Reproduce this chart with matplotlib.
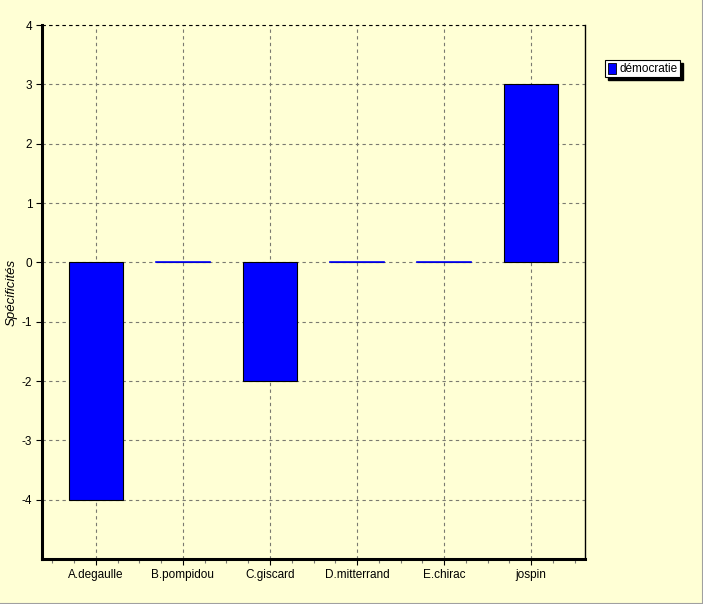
import matplotlib
matplotlib.use("Agg")
import matplotlib.pyplot as plt
from matplotlib.patches import Rectangle
from matplotlib.lines import Line2D
from matplotlib.ticker import MultipleLocator

# Data
categories = ["A.degaulle", "B.pompidou", "C.giscard", "D.mitterrand", "E.chirac", "jospin"]
values = [-4, 0, -2, 0, 0, 3]
series_name = "démocratie"
y_ticks = [-4, -3, -2, -1, 0, 1, 2, 3, 4]

W, H = 703, 604
BG = "#FFFFD5"
BLUE = "#0000FF"
GRID = "#7A7A70"

plt.rcParams["font.family"] = ["Liberation Sans", "DejaVu Sans"]

fig = plt.figure(figsize=(W / 100, H / 100), dpi=100, facecolor=BG)
ax = fig.add_axes([42 / W, 1 - 559 / H, (585 - 42) / W, (559 - 25) / H])
ax.set_facecolor(BG)

x = list(range(len(categories)))
ax.bar(x, values, width=0.62, color=BLUE, edgecolor="black", linewidth=0.8, zorder=3)
# zero values still show as a thin blue line
for xi, v in zip(x, values):
    if v == 0:
        ax.plot([xi - 0.31, xi + 0.31], [0, 0], color=BLUE, linewidth=1.2, zorder=4)

ax.set_xlim(-0.62, len(categories) - 1 + 0.62)
ax.set_ylim(-5, 4)
ax.set_xticks(x)
ax.set_xticklabels(categories, fontsize=8.5)
ax.xaxis.set_minor_locator(MultipleLocator(0.25))
ax.set_yticks(y_ticks)
ax.set_yticklabels([str(t) for t in y_ticks], fontsize=8.5)

ax.grid(True, which="major", color=GRID, linestyle=(0, (3, 3)), linewidth=0.8, zorder=1)
ax.tick_params(axis="both", which="major", length=4, width=0.8, pad=3, colors="black")
ax.tick_params(axis="x", which="minor", length=3, width=0.8, color=GRID)

ax.spines["left"].set_linewidth(2.2)
ax.spines["bottom"].set_linewidth(2.2)
ax.spines["right"].set_linewidth(1.0)
ax.spines["top"].set_visible(False)
ax.axhline(4, color="black", linestyle=(0, (3, 3)), linewidth=0.8, zorder=2, clip_on=False)

ax.set_ylabel("Spécificités", fontsize=9.5, style="italic", labelpad=3)

# legend with shadow box
lx, ly, lw, lh = 605 / W, 1 - 77 / H, 75 / W, 17 / H
fig.patches.append(Rectangle((lx + 3 / W, ly - 3 / H), lw, lh, transform=fig.transFigure,
                             facecolor="black", edgecolor="black", zorder=5))
fig.patches.append(Rectangle((lx, ly), lw, lh, transform=fig.transFigure,
                             facecolor="white", edgecolor="black", linewidth=0.8, zorder=6))
fig.patches.append(Rectangle((lx + 3 / W, ly + 3 / H), 8 / W, 11 / H, transform=fig.transFigure,
                             facecolor=BLUE, edgecolor="black", linewidth=0.6, zorder=7))
fig.text(lx + 14 / W, ly + lh / 2, series_name, fontsize=8.5, va="center", ha="left", zorder=8)

# window border at right and bottom only
fig.lines.append(Line2D([0, 1], [0.5 / H, 0.5 / H], transform=fig.transFigure,
                        color="#A0A0A0", linewidth=1.5))
fig.lines.append(Line2D([1 - 0.5 / W, 1 - 0.5 / W], [0, 1], transform=fig.transFigure,
                        color="#A0A0A0", linewidth=1.5))

fig.savefig("out.png", dpi=100, facecolor=BG)
